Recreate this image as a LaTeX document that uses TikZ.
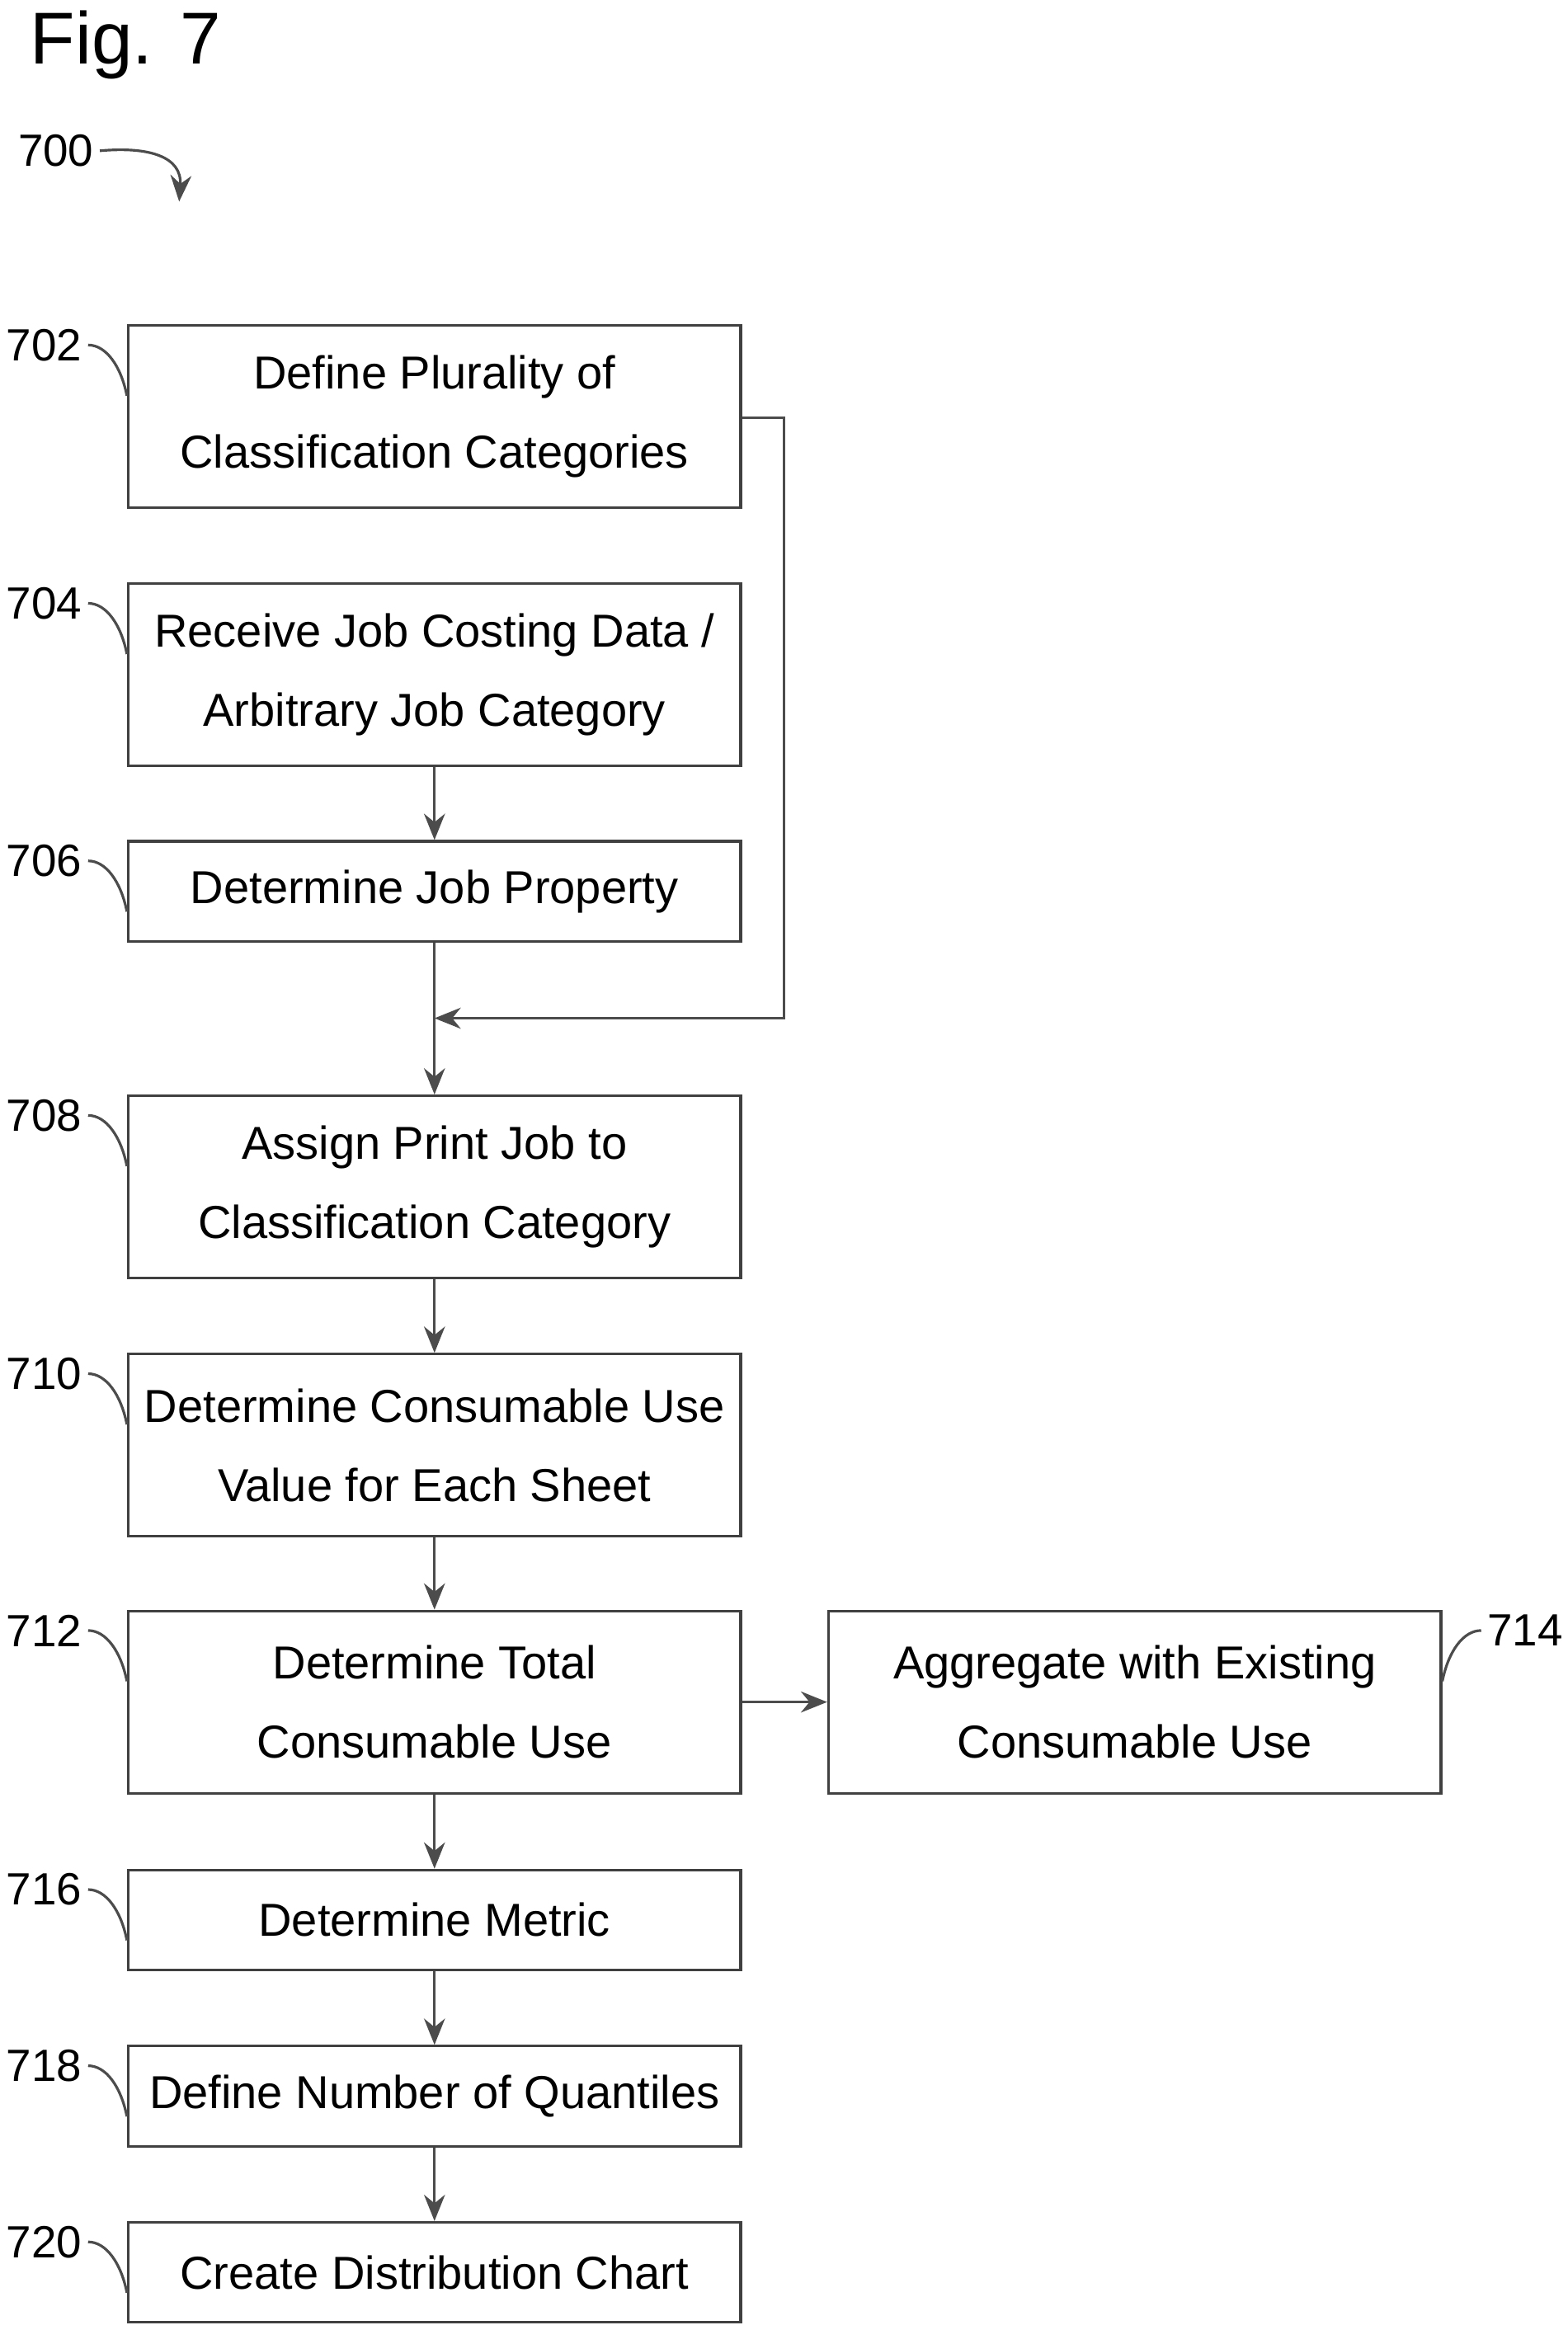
\documentclass[tikz,border=0pt]{standalone}
\usepackage{fontspec}
\setmainfont{Liberation Sans}
\usetikzlibrary{positioning,calc,arrows.meta}

\begin{document}
\begin{tikzpicture}[x=0.01cm,y=-0.01cm,
	stepbox/.style={draw=black!75, line width=0.5pt, minimum width=4.1cm, align=center,
		font=\fontsize{8.8}{15}\selectfont, inner sep=0pt},
	tall/.style={minimum height=1.22cm},
	short/.style={minimum height=0.67cm},
	refnum/.style={font=\fontsize{8.6}{10}\selectfont, inner sep=1pt},
	leader/.style={draw=black!70, line width=0.5pt},
	flow/.style={draw=black!70, line width=0.5pt, -{Stealth[length=5pt,width=4pt]}}
	]
	\useasboundingbox (0,0) rectangle (1050,1570);
	% title and figure number
	\node[anchor=west, font=\fontsize{14}{16}\selectfont] (fig) at (8,30) {Fig. 7};
	\node[refnum, anchor=west] (n700) at (8,101) {700};
	\coordinate (n700end) at (120,135);
	\draw[flow] (n700.east) .. controls (100,98) and (122,105) .. (n700end);

	% main column
	\node[stepbox, tall]  (s702) at (291,279) {Define Plurality of\\Classification Categories};
	\node[stepbox, tall]  (s704) at (291,452) {Receive Job Costing Data /\\Arbitrary Job Category};
	\node[stepbox, short] (s706) at (291,597) {Determine Job Property};
	\node[stepbox, tall]  (s708) at (291,795) {Assign Print Job to\\Classification Category};
	\node[stepbox, tall]  (s710) at (291,968) {Determine Consumable Use\\Value for Each Sheet};
	\node[stepbox, tall]  (s712) at (291,1140) {Determine Total\\Consumable Use};
	\node[stepbox, tall]  (s714) at (760,1140) {Aggregate with Existing\\Consumable Use};
	\node[stepbox, short] (s716) at (291,1286) {Determine Metric};
	\node[stepbox, short] (s718) at (291,1404) {Define Number of Quantiles};
	\node[stepbox, short] (s720) at (291,1522) {Create Distribution Chart};

	% reference numbers with leaders
	\foreach \n in {702,704,706,708,710,712,716,718,720}{
		\node[refnum, anchor=east] (l\n) at ($(s\n.north west)+(-26,14)$) {\n};
		\draw[leader] (l\n.east) .. controls +(12,0) and +(-4,-20) .. ($(s\n.north west)+(0,48)$);
	}
	\node[refnum, anchor=west] (l714) at ($(s714.north east)+(26,14)$) {714};
	\draw[leader] (l714.west) .. controls +(-12,0) and +(4,-20) .. ($(s714.north east)+(0,48)$);

	% connectors
	\coordinate (join) at (291,682);
	\coordinate (bypass) at (525,682);
	\draw[flow] (s704) -- (s706);
	\draw[leader] (s706) -- (join);
	\draw[flow] (s702.east |- 0,280) -| (bypass) -- (join);
	\draw[flow] (join) -- (s708);
	\draw[flow] (s708) -- (s710);
	\draw[flow] (s710) -- (s712);
	\draw[flow] (s712) -- (s714);
	\draw[flow] (s712) -- (s716);
	\draw[flow] (s716) -- (s718);
	\draw[flow] (s718) -- (s720);
\end{tikzpicture}
\end{document}
